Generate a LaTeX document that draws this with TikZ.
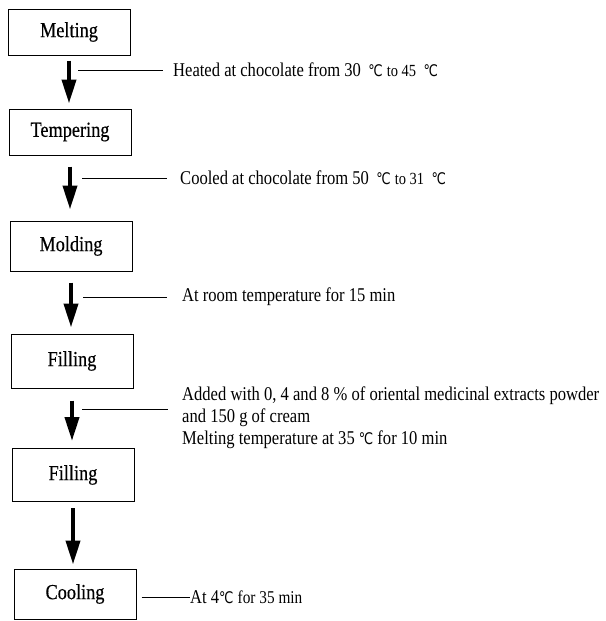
\documentclass[tikz,border=0pt]{standalone}
\usepackage{fontspec}
\setmainfont{Liberation Serif}[FakeStretch=0.85]
\newfontfamily\labfont{Liberation Serif}[FakeStretch=0.85,FakeBold=0.4]
\newfontfamily\symfont{DejaVu Sans}[FakeStretch=0.8]
\newcommand{\dgc}{{\symfont\fontsize{16}{18}\selectfont ℃}}
\usetikzlibrary{arrows.meta}
\begin{document}
\begin{tikzpicture}[x=1pt,y=-1pt,
  stepbox/.style={draw,line width=1pt,inner sep=0pt,minimum width=122pt,font=\labfont\fontsize{21.5}{24}\selectfont},
  flow/.style={line width=4pt,-{Triangle[length=24pt,width=14pt]}},
  lead/.style={line width=0.7pt},
  note/.style={anchor=west,inner sep=0pt,font=\fontsize{19.5}{22}\selectfont,align=left}]
\useasboundingbox (0,0) rectangle (605,621);
% boxes
\node[stepbox,minimum height=46pt] (m1) at (69,32) {Melting};
\node[stepbox,minimum height=46pt] (m2) at (70,132) {Tempering};
\node[stepbox,minimum height=50pt] (m3) at (71,246) {Molding};
\node[stepbox,minimum height=54pt] (m4) at (72,361) {Filling};
\node[stepbox,minimum height=53pt] (m5) at (73,475) {Filling};
\node[stepbox,minimum height=50pt] (m6) at (75,594) {Cooling};
% flow arrows
\draw[flow,shorten <=5pt,shorten >=5pt] (m1.south) -- (m1.south |- m2.north);
\draw[flow,shorten <=11pt,shorten >=11pt] (m2.south) -- (m2.south |- m3.north);
\draw[flow,shorten <=11pt,shorten >=6pt] (m3.south) -- (m3.south |- m4.north);
\draw[flow,shorten <=12pt,shorten >=7pt] (m4.south) -- (m4.south |- m5.north);
\draw[flow,shorten <=6pt,shorten >=4pt] (m5.south) -- (m5.south |- m6.north);
% notes
\node[note] (t1) at (173,70) {Heated at chocolate from 30\, \dgc\ {\fontsize{17}{18}\selectfont to 45}\, \dgc};
\node[note] (t2) at (180,178) {Cooled at chocolate from 50\, \dgc\ {\fontsize{17}{18}\selectfont to 31}\, \dgc};
\node[note] (t3) at (182,297) {At room temperature for 15 min};
\node[note] (t4) at (182,418) {Added with 0, 4 and 8 \% of oriental medicinal extracts powder\\and 150 g of cream\\Melting temperature at 35 \dgc\ for 10 min};
\node[note] (t6) at (190,597) {At 4\dgc\ {\fontsize{18}{18}\selectfont for 35 min}};
% leader lines
\coordinate (c1) at (78,70);
\coordinate (c2) at (82,178);
\coordinate (c3) at (83,297);
\coordinate (c4) at (82,409);
\draw[lead] (c1) -- ([xshift=-10pt]t1.west);
\draw[lead] (c2) -- ([xshift=-13pt]t2.west);
\draw[lead] (c3) -- ([xshift=-15pt]t3.west);
\draw[lead] (c4) -- ([xshift=-14pt]c4 -| t4.west);
\draw[lead,shorten <=5pt] (m6.east |- t6.west) -- (t6.west);
\end{tikzpicture}
\end{document}
